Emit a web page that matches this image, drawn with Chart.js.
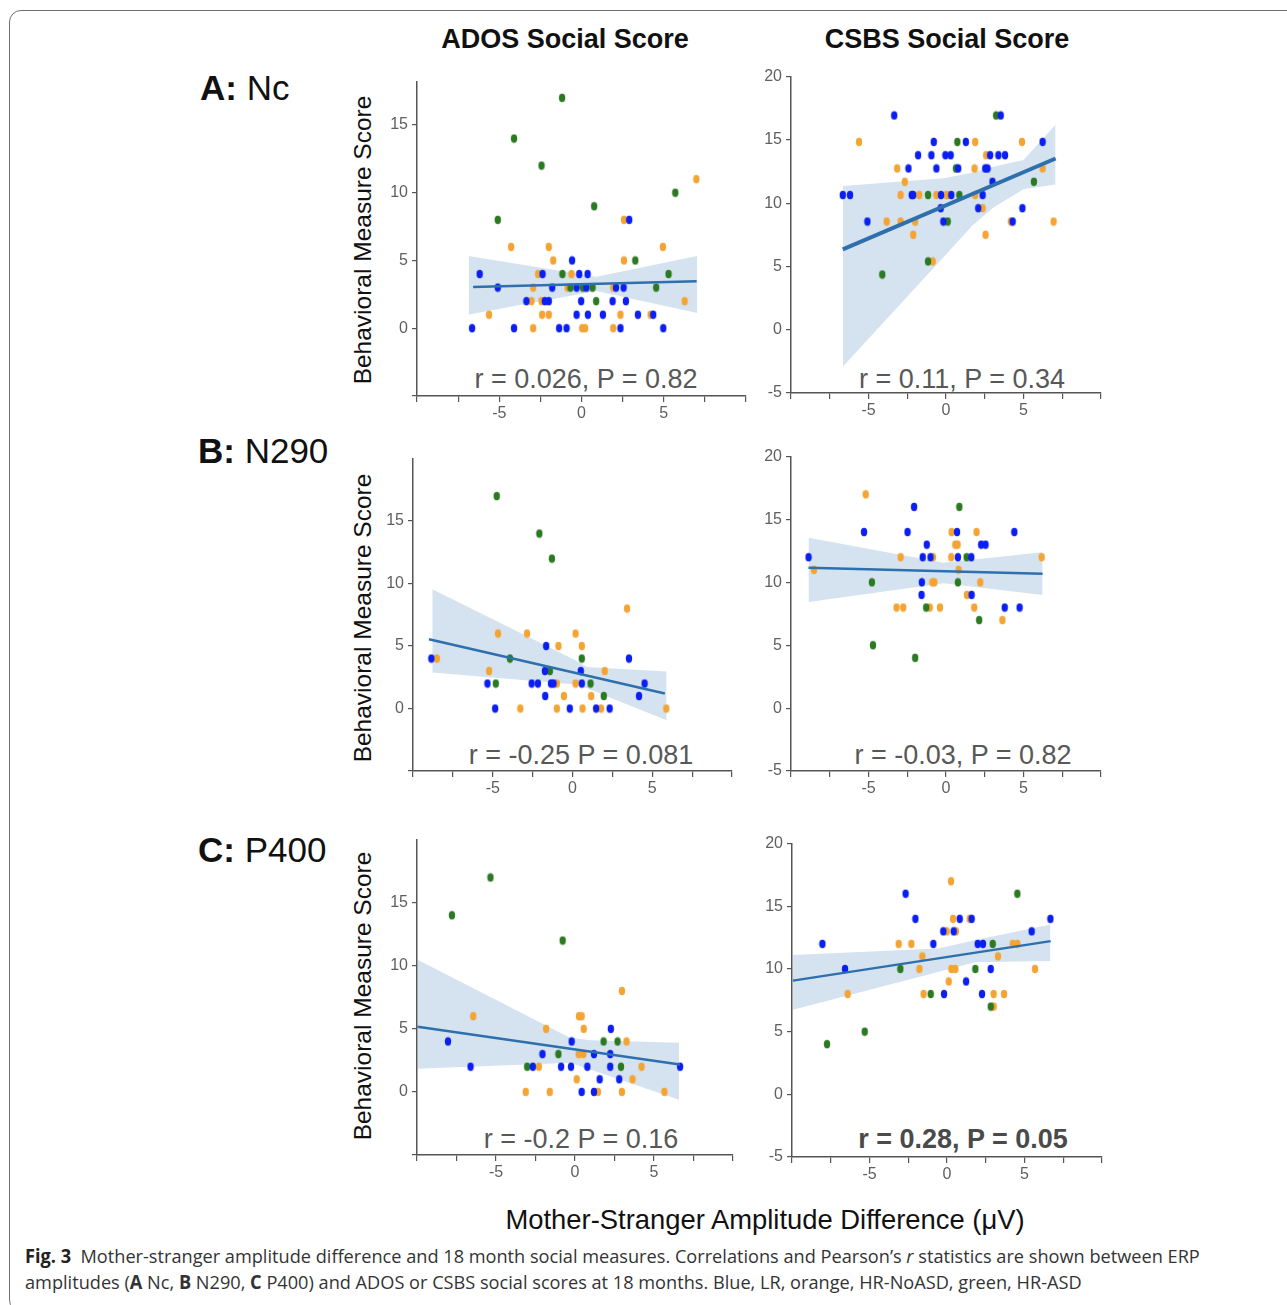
<!DOCTYPE html>
<html>
<head>
<meta charset="utf-8">
<script src="https://cdn.jsdelivr.net/npm/chart.js@4.4.1/dist/chart.umd.min.js"></script>
<style>
  body { margin: 0; background: #fff; width: 1287px; height: 1305px; position: relative; overflow: hidden;
         font-family: "Liberation Sans", Arial, sans-serif; color: #111; }
  .frame { position: absolute; left: 9px; top: 10px; width: 1400px; height: 1300px;
           border: 1.5px solid #707070; border-radius: 12px; }
  canvas { position: absolute; }
  .t { position: absolute; white-space: nowrap; line-height: 1; transform: translate(-50%, -50%); }
  .col { font-weight: bold; font-size: 27px; }
  .lab { font-size: 35px; transform: translate(0, -50%); }
  .yt { font-size: 24.5px; transform: translate(-50%, -50%) rotate(-90deg); }
  .stat { font-size: 27px; color: #585858; }
  .cap { position: absolute; left: 25px; white-space: nowrap; font-family: "Open Sans", sans-serif; font-size: 19px;
         color: #333; line-height: 1; transform-origin: 0 50%; }
</style>
</head>
<body>
<div class="frame"></div>

<div class="t col" style="left:565px; top:39px;">ADOS Social Score</div>
<div class="t col" style="left:947px; top:39px;">CSBS Social Score</div>

<div class="t lab" style="left:200px; top:87px;"><b>A:</b> Nc</div>
<div class="t lab" style="left:198px; top:450px;"><b>B:</b> N290</div>
<div class="t lab" style="left:198px; top:849px;"><b>C:</b> P400</div>

<div class="t yt" style="left:363px; top:240px;">Behavioral Measure Score</div>
<div class="t yt" style="left:363px; top:618px;">Behavioral Measure Score</div>
<div class="t yt" style="left:363px; top:996px;">Behavioral Measure Score</div>

<div class="t stat" style="left:586px; top:379px;">r = 0.026, P = 0.82</div>
<div class="t stat" style="left:962px; top:379px;">r = 0.11, P = 0.34</div>
<div class="t stat" style="left:581px; top:755px;">r = -0.25 P = 0.081</div>
<div class="t stat" style="left:963px; top:755px;">r = -0.03, P = 0.82</div>
<div class="t stat" style="left:581px; top:1139px;">r = -0.2 P = 0.16</div>
<div class="t stat" style="left:963px; top:1139px; font-weight:bold; color:#4a4a4a;">r = 0.28, P = 0.05</div>

<div class="t" style="left:765px; top:1220px; font-size:27.4px;">Mother-Stranger Amplitude Difference (μV)</div>

<div class="cap" id="cap1" data-w="1175" style="top:1247px;"><b style="color:#222">Fig. 3</b>&nbsp;&nbsp;Mother-stranger amplitude difference and 18 month social measures. Correlations and Pearson’s <i>r</i> statistics are shown between ERP</div>
<div class="cap" id="cap2" data-w="1056" style="top:1273px;">amplitudes (<b>A</b> Nc, <b>B</b> N290, <b>C</b> P400) and ADOS or CSBS social scores at 18 months. Blue, LR, orange, HR-NoASD, green, HR-ASD</div>

<script>
// axis ticks
const xTicks = [-10, -7.5, -5, -2.5, 0, 2.5, 5, 7.5, 10];
const xLabels = [-5, 0, 5];
const adosTicks = [-5, 0, 5, 10, 15];
const adosLabels = [0, 5, 10, 15];
const csbsTicks = [-5, 0, 5, 10, 15, 20];
const csbsLabels = [-5, 0, 5, 10, 15, 20];

// A: Nc / ADOS
const ncAdosBlue = [[2.9,8],[-0.57,5],[-6.19,4],[-2.37,4],[-0.14,4],[0.37,4],[-5.09,3],[-1.78,3],[-0.3,3],[0.3,3],[2.1,3],[2.56,3],[-3.35,2],[-2.23,2],[-1.99,2],[-0.02,2],[1.89,2],[2.7,2],[-0.3,1],[0.39,1],[1.3,1],[3.43,1],[4.36,1],[-6.65,0],[-4.1,0],[-1.36,0],[-0.91,0],[2.37,0],[4.97,0]];
const ncAdosOrange = [[6.98,11],[2.58,8],[-4.28,6],[-1.99,6],[4.95,6],[-1.72,5],[2.58,5],[-2.64,4],[-0.61,4],[-2.94,3],[-0.85,3],[1.93,3],[-3.04,2],[-2.43,2],[6.27,2],[-5.62,1],[-2.39,1],[-1.99,1],[2.37,1],[4.2,1],[-2.94,0],[0.04,0],[0.22,0],[1.93,0]];
const ncAdosGreen = [[-1.18,17],[-4.1,14],[-2.43,12],[5.7,10],[0.77,9],[-5.09,8],[3.27,5],[-1.16,4],[5.29,4],[-0.67,3],[0.08,3],[0.67,3],[4.54,3],[0.89,2]];
const ncAdosFit = [[-6.59,3.05],[7.0,3.47]];
const ncAdosBandX = [-6.86, 0.9, 7.04];
const ncAdosUpper = [5.33, 3.8, 5.33];
const ncAdosLower = [1.02, 2.75, 1.12];

// A: Nc / CSBS
const ncCsbsBlue = [[-3.34,16.93],[3.53,16.93],[-0.79,14.84],[1.28,14.84],[6.23,14.84],[-1.8,13.79],[-0.94,13.79],[-0.04,13.79],[0.3,13.79],[2.85,13.79],[3.38,13.79],[3.81,13.79],[-2.42,12.74],[-0.62,12.74],[0.79,12.74],[2.53,12.74],[2.68,12.74],[3.0,11.69],[-6.66,10.64],[-6.19,10.64],[-2.21,10.64],[-2.12,10.64],[-0.32,10.64],[0.34,10.64],[2.36,10.64],[-0.34,9.6],[2.08,9.6],[4.93,9.6],[-5.07,8.55],[-0.17,8.55],[4.3,8.55]];
const ncCsbsOrange = [[-5.61,14.84],[1.88,14.84],[4.9,14.84],[2.59,13.79],[-3.15,12.74],[1.84,12.74],[6.23,12.74],[-2.66,11.69],[-2.93,10.64],[-1.73,10.64],[-0.62,10.64],[0.02,10.64],[0.11,10.64],[1.88,10.64],[2.36,9.6],[-3.83,8.55],[-2.93,8.55],[-1.99,8.55],[4.18,8.55],[6.94,8.55],[-2.12,7.5],[2.55,7.5],[-0.86,5.4]];
const ncCsbsGreen = [[3.23,16.93],[0.73,14.84],[0.64,12.74],[5.67,11.69],[-1.16,10.64],[0.86,10.64],[0.11,8.55],[-1.16,5.4],[-4.11,4.36]];
const ncCsbsFit = [[-6.66,6.35],[7.07,13.53]];
const ncCsbsBandX = [-6.66, -0.15, 1.67, 3.06, 5.0, 7.07];
const ncCsbsUpper = [11.35, 11.96, 12.4, 12.87, 13.42, 16.2];
const ncCsbsLower = [-2.93, 5.74, 8.2, 9.65, 11.09, 11.48];

// B: N290 / ADOS
const n290AdosBlue = [[-1.65,5],[-8.85,4],[3.54,4],[-1.73,3],[0.52,3],[-5.33,2],[-2.56,2],[-2.17,2],[-1.35,2],[-1.19,2],[0.58,2],[4.52,2],[-1.71,1],[4.17,1],[-4.85,0],[-0.17,0],[1.48,0],[2.33,0]];
const n290AdosOrange = [[3.42,8],[-4.67,6],[-2.85,6],[0.19,6],[-0.88,5],[0.58,5],[-8.5,4],[-5.23,3],[2.02,3],[-0.98,2],[0.19,2],[-0.54,1],[1.17,1],[-3.27,0],[-0.98,0],[0.63,0],[1.79,0],[5.88,0]];
const n290AdosGreen = [[-4.75,17],[-2.08,14],[-1.29,12],[-3.92,4],[0.58,4],[-1.42,3],[-4.81,2],[1.13,2],[1.96,1]];
const n290AdosFit = [[-9.0,5.54],[5.79,1.2]];
const n290AdosBandX = [-8.79, 0.06, 0.9, 5.9];
const n290AdosUpper = [9.54, 3.94, 3.33, 2.96];
const n290AdosLower = [2.88, 1.95, 1.63, -0.93];

// B: N290 / CSBS
const n290CsbsBlue = [[-2.06,16],[-5.29,14],[-2.48,14],[0.71,14],[4.41,14],[-1.24,13],[2.27,13],[2.55,13],[-8.87,12],[-1.5,12],[-1.0,12],[0.77,12],[1.63,12],[-1.56,10],[-1.58,9],[1.65,9],[3.79,8],[4.75,8]];
const n290CsbsOrange = [[-5.18,17],[0.36,14],[1.97,14],[0.6,13],[0.75,13],[-2.93,12],[-0.84,12],[0.34,12],[6.17,12],[-8.52,11],[0.81,11],[-0.88,10],[-0.75,10],[2.21,10],[1.35,9],[-3.19,8],[-2.76,8],[-1.05,8],[-0.39,8],[1.82,8],[3.64,7]];
const n290CsbsGreen = [[0.86,16],[1.33,12],[-4.78,10],[0.77,10],[-1.28,8],[2.14,7],[-4.71,5],[-1.99,4]];
const n290CsbsFit = [[-8.87,11.16],[6.23,10.69]];
const n290CsbsBandX = [-8.87, -0.15, 6.23];
const n290CsbsUpper = [13.54, 11.56, 12.4];
const n290CsbsLower = [8.44, 9.92, 9.0];

// C: P400 / ADOS
const p400AdosBlue = [[2.27,5],[-8.04,4],[-0.21,4],[-2.06,3],[1.2,3],[2.23,3],[-6.61,2],[-2.67,2],[-0.88,2],[-0.25,2],[0.78,2],[2.23,2],[6.65,2],[1.56,1],[2.8,1],[0.42,0],[1.2,0]];
const p400AdosOrange = [[2.97,8],[-6.44,6],[0.25,6],[0.42,6],[-1.83,5],[0.55,5],[3.26,4],[0.23,3],[0.53,3],[-2.29,2],[4.21,2],[0.11,1],[3.64,1],[-3.12,0],[-1.6,0],[1.45,0],[2.97,0],[5.66,0]];
const p400AdosGreen = [[-5.35,17],[-7.79,14],[-0.78,12],[1.81,4],[2.69,4],[-1.05,3],[-3.03,2],[2.91,2]];
const p400AdosFit = [[-9.96,5.16],[6.63,2.18]];
const p400AdosBandX = [-9.96, -0.32, 1.0, 6.59];
const p400AdosUpper = [10.47, 4.29, 4.1, 3.9];
const p400AdosLower = [1.84, 2.32, 1.76, -0.63];

// C: P400 / CSBS
const p400CsbsBlue = [[-2.67,16],[-2.04,14],[0.82,14],[1.59,14],[6.67,14],[-0.24,13],[0.43,13],[5.46,13],[-8.04,12],[-0.88,12],[1.98,12],[2.32,12],[-6.58,10],[2.82,10],[1.23,9],[-0.19,8],[2.26,8]];
const p400CsbsOrange = [[0.26,17],[0.39,14],[1.46,14],[-0.02,13],[0.58,13],[-3.12,12],[-2.3,12],[4.24,12],[4.54,12],[-1.59,11],[3.29,11],[-1.78,10],[0.28,10],[0.54,10],[5.68,10],[0.11,9],[-6.41,8],[-1.51,8],[3.01,8],[3.68,8],[3.01,7]];
const p400CsbsGreen = [[4.54,16],[2.95,12],[-3.01,10],[1.83,10],[-1.05,8],[2.82,7],[-5.31,5],[-7.74,4]];
const p400CsbsFit = [[-9.94,9.07],[6.69,12.22]];
const p400CsbsBandX = [-9.94, -0.58, 1.78, 6.67];
const p400CsbsUpper = [11.11, 11.64, 12.3, 13.54];
const p400CsbsLower = [6.75, 9.76, 10.53, 10.63];

Chart.defaults.font.family = '"Liberation Sans", Arial, sans-serif';

const lineBlue = "#2e6fae";
const bandColor = "rgba(46,111,174,0.2)";

const dot = (color) => {
	const c = document.createElement("canvas");
	c.width = 8;
	c.height = 10;
	const g = c.getContext("2d");
	g.fillStyle = color;
	g.beginPath();
	g.ellipse(4, 5, 3.2, 4.2, 0, 0, Math.PI * 2);
	g.fill();
	return c;
};
const blueDot = dot("#0b1ff2");
const orangeDot = dot("#f4a433");
const greenDot = dot("#2b7a22");

const pts = (arr) => arr.map(([x, y]) => ({ x, y }));
const band = (xs, ys) => xs.map((x, i) => ({ x, y: ys[i] }));

// box = chart area [left, top, right, bottom] in page pixels
const panels = [
	{ box: [417, 80, 746, 396], yMax: 18.2, yTicks: adosTicks, yLabels: adosLabels, lw: 2.5,
	  blue: ncAdosBlue, orange: ncAdosOrange, green: ncAdosGreen, fit: ncAdosFit, bx: ncAdosBandX, up: ncAdosUpper, lo: ncAdosLower },
	{ box: [791, 75, 1101, 393], yMax: 20, yTicks: csbsTicks, yLabels: csbsLabels, lw: 4,
	  blue: ncCsbsBlue, orange: ncCsbsOrange, green: ncCsbsGreen, fit: ncCsbsFit, bx: ncCsbsBandX, up: ncCsbsUpper, lo: ncCsbsLower },
	{ box: [413, 457, 732, 771], yMax: 20, yTicks: adosTicks, yLabels: adosLabels, lw: 2.5,
	  blue: n290AdosBlue, orange: n290AdosOrange, green: n290AdosGreen, fit: n290AdosFit, bx: n290AdosBandX, up: n290AdosUpper, lo: n290AdosLower },
	{ box: [791, 455, 1101, 771], yMax: 20, yTicks: csbsTicks, yLabels: csbsLabels, lw: 2.5,
	  blue: n290CsbsBlue, orange: n290CsbsOrange, green: n290CsbsGreen, fit: n290CsbsFit, bx: n290CsbsBandX, up: n290CsbsUpper, lo: n290CsbsLower },
	{ box: [417, 838, 733, 1155], yMax: 20, yTicks: adosTicks, yLabels: adosLabels, lw: 2.5,
	  blue: p400AdosBlue, orange: p400AdosOrange, green: p400AdosGreen, fit: p400AdosFit, bx: p400AdosBandX, up: p400AdosUpper, lo: p400AdosLower },
	{ box: [792, 842, 1102, 1157], yMax: 20, yTicks: csbsTicks, yLabels: csbsLabels, lw: 2.5,
	  blue: p400CsbsBlue, orange: p400CsbsOrange, green: p400CsbsGreen, fit: p400CsbsFit, bx: p400CsbsBandX, up: p400CsbsUpper, lo: p400CsbsLower },
];

const tickFont = { size: 16 };

const drawPanel = (p) => {
	const [l, t, r, b] = p.box;
	const w = r - l + 62;
	const h = b - t + 52;
	const cv = document.createElement("canvas");
	cv.width = w;
	cv.height = h;
	cv.style.left = l - 50 + "px";
	cv.style.top = t - 12 + "px";
	cv.style.width = w + "px";
	cv.style.height = h + "px";
	document.body.appendChild(cv);

	new Chart(cv, {
		type: "scatter",
		data: {
			datasets: [
				{ type: "line", data: pts(p.fit), borderColor: lineBlue, borderWidth: p.lw, pointRadius: 0, fill: false },
				{ data: pts(p.blue), pointStyle: blueDot, pointRadius: 4 },
				{ data: pts(p.green), pointStyle: greenDot, pointRadius: 4 },
				{ data: pts(p.orange), pointStyle: orangeDot, pointRadius: 4 },
				{ type: "line", data: band(p.bx, p.up), borderColor: "rgba(0,0,0,0)", borderWidth: 0, pointRadius: 0, fill: false },
				{ type: "line", data: band(p.bx, p.lo), borderColor: "rgba(0,0,0,0)", borderWidth: 0, pointRadius: 0, fill: 4, backgroundColor: bandColor },
			],
		},
		options: {
			responsive: false,
			animation: false,
			devicePixelRatio: 1,
			events: [],
			layout: { padding: { top: 12, right: 12, left: 0, bottom: 0 } },
			plugins: { legend: { display: false }, tooltip: { enabled: false } },
			elements: { line: { tension: 0 } },
			scales: {
				x: {
					type: "linear",
					min: -10,
					max: 10,
					afterBuildTicks: (s) => { s.ticks = xTicks.map((v) => ({ value: v })); },
					afterFit: (s) => { s.height = 40; },
					ticks: {
						autoSkip: false,
						maxRotation: 0,
						padding: 2,
						color: "#5f5f5f",
						font: tickFont,
						callback: (v) => (xLabels.includes(v) ? String(v) : ""),
					},
					grid: { drawOnChartArea: false, tickLength: 6, color: "#555", lineWidth: 1.2 },
					border: { color: "#555", width: 1.5 },
				},
				y: {
					type: "linear",
					min: -5,
					max: p.yMax,
					afterBuildTicks: (s) => { s.ticks = p.yTicks.map((v) => ({ value: v })); },
					afterFit: (s) => { s.width = 50; },
					ticks: {
						autoSkip: false,
						padding: 4,
						color: "#5f5f5f",
						font: tickFont,
						callback: (v) => (p.yLabels.includes(v) ? String(v) : ""),
					},
					grid: { drawOnChartArea: false, tickLength: 5, color: "#555", lineWidth: 1.2 },
					border: { color: "#555", width: 1.5 },
				},
			},
		},
	});
};

panels.forEach(drawPanel);

// squeeze caption lines to the measured widths
document.querySelectorAll(".cap").forEach((el) => {
	const target = Number(el.dataset.w);
	const s = target / el.scrollWidth;
	el.style.transform = "scaleX(" + s.toFixed(3) + ")";
});
</script>
</body>
</html>
